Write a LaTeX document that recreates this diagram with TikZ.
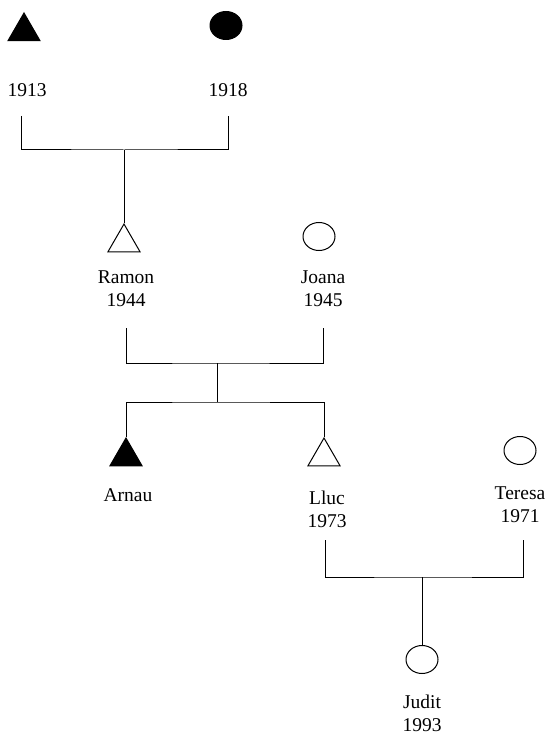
\documentclass[tikz,border=0pt]{standalone}
\usepackage{fontspec}
\setmainfont{Liberation Serif}
\usepackage{tikz}
\usetikzlibrary{positioning, arrows}
\usetikzlibrary{shapes.geometric}

\begin{document}
\begin{tikzpicture}[x=1pt, y=-1pt, line width=1pt,
    male/.style={regular polygon, regular polygon sides=3, draw, fill=white, minimum size=37pt, inner sep=0pt, anchor=north},
    female/.style={ellipse, draw, fill=white, minimum width=32pt, minimum height=28pt, inner sep=0pt, anchor=north},
    dead/.style={fill=black},
    persontext/.style={align=center, anchor=base, font=\fontsize{19.5}{22.5}\selectfont}]
    \useasboundingbox (0,0) rectangle (549,735);
    
    % Define nodes
    \node[male, dead] (gf) at (24,12) {};
    \node[female, dead] (gm) at (226,11) {};
    \node[male] (ramon) at (124,223) {};
    \node[female] (joana) at (319,222) {};
    \node[male, dead] (arnau) at (126,437) {};
    \node[male] (lluc) at (324,437) {};
    \node[female] (teresa) at (520,436) {};
    \node[female] (judit) at (422,645) {};
    
    % Names and years (base = last line)
    \node[persontext] (gftext) at (27,97) {1913};
    \node[persontext] (gmtext) at (228,97) {1918};
    \node[persontext] (ramontext) at (126,306) {Ramon\\1944};
    \node[persontext] (joanatext) at (323,306) {Joana\\1945};
    \node[persontext] (arnautext) at (128,501) {Arnau};
    \node[persontext] (lluctext) at (327,527) {Lluc\\1973};
    \node[persontext] (teresatext) at (520,522) {Teresa\\1971};
    \node[persontext] (judittext) at (422,731) {Judit\\1993};
    
    % Couples
    \coordinate (c1l) at (21,116);
    \coordinate (c1r) at (228,116);
    \coordinate (c1) at (124,150);
    \coordinate (c2l) at (126,328);
    \coordinate (c2r) at (323,328);
    \coordinate (c2) at (217,363);
    \coordinate (s2) at (217,402);
    \coordinate (c3l) at (325,540);
    \coordinate (c3r) at (523,540);
    \coordinate (c3) at (422,577);
    
    % Draw edges
    \draw (c1l) |- (c1) -| (c1r);
    \draw (c1) -- (ramon.north);
    \draw (c2l) |- (c2) -| (c2r);
    \draw (c2) -- (s2);
    \draw (arnau.north) |- (s2) -| (lluc.north);
    \draw (c3l) |- (c3) -| (c3r);
    \draw (c3) -- (judit.north);
    
\end{tikzpicture}
\end{document}
